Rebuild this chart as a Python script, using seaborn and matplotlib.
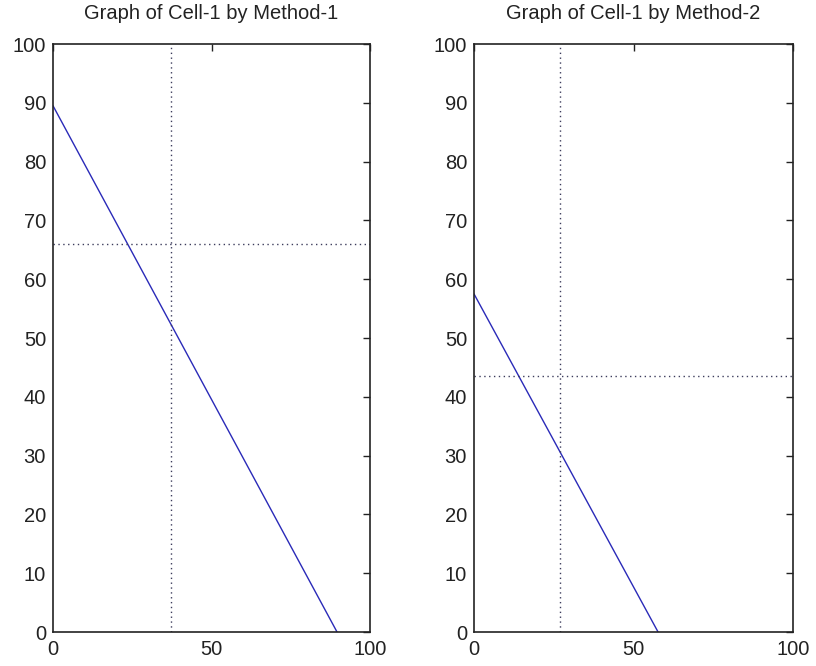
import matplotlib
matplotlib.use("Agg")
import matplotlib.pyplot as plt
import seaborn as sns
import pandas as pd

# Data
titles = ["Graph of Cell-1 by Method-1", "Graph of Cell-1 by Method-2"]
line_x = [[0, 89.6], [0, 57.7]]
line_y = [[89.5, 0], [57.5, 0]]
vline_x = [37.2, 27.0]
hline_y = [66.0, 43.5]
xticks = [0, 50, 100]
yticks = [0, 10, 20, 30, 40, 50, 60, 70, 80, 90, 100]

sns.set_style("white")
plt.rcParams["font.family"] = ["Liberation Sans", "DejaVu Sans"]

fig = plt.figure(figsize=(8.16, 6.66), dpi=100)
positions = [[53 / 816, 34 / 666, 317 / 816, 588 / 666],
             [474 / 816, 34 / 666, 319 / 816, 588 / 666]]

for i in range(2):
    ax = fig.add_axes(positions[i])
    df = pd.DataFrame({"x": line_x[i], "y": line_y[i]})
    sns.lineplot(data=df, x="x", y="y", ax=ax, color="#2a2ab8", linewidth=1.0)
    ax.axvline(vline_x[i], color="#3c3c5c", linestyle=(0, (1, 2.5)), linewidth=1.0)
    ax.axhline(hline_y[i], color="#3c3c5c", linestyle=(0, (1, 2.5)), linewidth=1.0)
    ax.set_xlim(0, 100)
    ax.set_ylim(0, 100)
    ax.set_xticks(xticks)
    ax.set_yticks(yticks)
    ax.set_xlabel("")
    ax.set_ylabel("")
    ax.set_title(titles[i], fontsize=14.5, color="#222222", pad=18)
    ax.tick_params(direction="in", length=5, width=1, colors="#222222",
                   labelsize=14.5, top=True, right=True)
    ax.tick_params(axis="x", pad=6)
    ax.tick_params(axis="y", pad=5)
    for s in ax.spines.values():
        s.set_visible(True)
        s.set_color("#222222")
        s.set_linewidth(1.2)

fig.savefig("out.png", dpi=100)
